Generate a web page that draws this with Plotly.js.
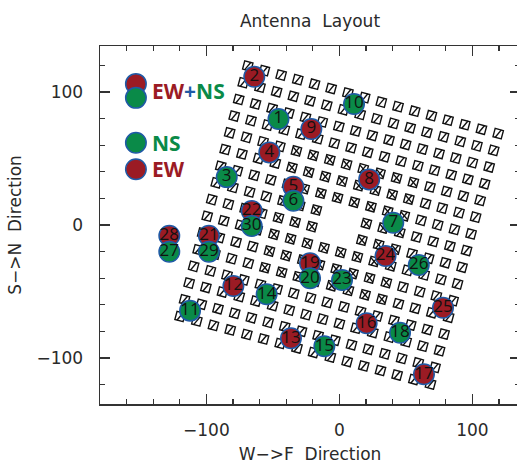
<!DOCTYPE html>
<html><head><meta charset="utf-8">
<script src="https://cdn.plot.ly/plotly-3.0.1.min.js"></script>
<style>html,body{margin:0;padding:0;background:#fff;overflow:hidden;width:517px;height:464px}</style>
</head><body><div id="chart"></div>
<script>
// Antenna lattice, one list per lattice row (null = empty site in the central hole)
const gridX = [
[-68.9,-56.4,-43.8,-31.3,-18.7,-6.2,6.4,19.0,31.5,44.1,56.6,69.2,81.7,94.3,106.8,119.4],
[-72.3,-59.7,-47.2,-34.6,-22.1,-9.5,3.0,15.6,28.1,40.7,53.2,65.8,78.3,90.9,103.4,116.0],
[-75.7,-63.1,-50.6,-38.0,-25.5,-12.9,-0.4,12.2,24.7,37.3,49.8,62.4,74.9,87.5,100.0,112.6],
[-79.1,-66.5,-54.0,-41.4,-28.9,-16.3,-3.8,8.8,21.3,33.9,46.4,59.0,71.5,84.1,96.6,109.2],
[-82.5,-69.9,-57.4,-44.8,-32.3,-19.7,-7.2,5.4,17.9,30.5,43.0,55.6,68.1,80.7,93.2,105.8],
[-85.9,-73.3,-60.8,-48.2,-35.7,-23.1,-10.6,2.0,14.6,27.1,39.7,52.2,64.8,77.3,89.9,102.4],
[-89.2,-76.7,-64.1,-51.6,-39.0,-26.5,-13.9,-1.4,11.2,23.7,36.3,48.8,61.4,73.9,86.5,99.0],
[-92.6,-80.1,-67.5,-55.0,-42.4,-29.9,-17.3,null,null,20.3,32.9,45.4,58.0,70.5,83.1,95.6],
[-96.0,-83.5,-70.9,-58.4,-45.8,-33.3,-20.7,null,null,16.9,29.5,42.0,54.6,67.1,79.7,92.2],
[-99.4,-86.9,-74.3,-61.8,-49.2,-36.7,-24.1,-11.6,1.0,13.5,26.1,38.6,51.2,63.7,76.3,88.8],
[-102.8,-90.3,-77.7,-65.2,-52.6,-40.1,-27.5,-15.0,-2.4,10.2,22.7,35.3,47.8,60.4,72.9,85.5],
[-106.2,-93.6,-81.1,-68.5,-56.0,-43.4,-30.9,-18.3,-5.8,6.8,19.3,31.9,44.4,57.0,69.5,82.1],
[-109.6,-97.0,-84.5,-71.9,-59.4,-46.8,-34.3,-21.7,-9.2,3.4,15.9,28.5,41.0,53.6,66.1,78.7],
[-113.0,-100.4,-87.9,-75.3,-62.8,-50.2,-37.7,-25.1,-12.6,0.0,12.5,25.1,37.6,50.2,62.7,75.3],
[-116.4,-103.8,-91.3,-78.7,-66.2,-53.6,-41.1,-28.5,-16.0,-3.4,9.1,21.7,34.2,46.8,59.3,71.9],
[-119.8,-107.2,-94.7,-82.1,-69.6,-57.0,-44.5,-31.9,-19.4,-6.8,5.8,18.3,30.9,43.4,56.0,68.5]
];
const gridY = [
[119.5,116.1,112.7,109.3,105.9,102.6,99.2,95.8,92.4,89.0,85.6,82.2,78.8,75.4,72.0,68.7],
[107.0,103.6,100.2,96.8,93.4,90.0,86.6,83.2,79.8,76.4,73.1,69.7,66.3,62.9,59.5,56.1],
[94.4,91.0,87.6,84.2,80.8,77.5,74.1,70.7,67.3,63.9,60.5,57.1,53.7,50.3,46.9,43.6],
[81.9,78.5,75.1,71.7,68.3,64.9,61.5,58.1,54.7,51.3,48.0,44.6,41.2,37.8,34.4,31.0],
[69.3,65.9,62.5,59.1,55.7,52.4,49.0,45.6,42.2,38.8,35.4,32.0,28.6,25.2,21.8,18.5],
[56.8,53.4,50.0,46.6,43.2,39.8,36.4,33.0,29.6,26.2,22.9,19.5,16.1,12.7,9.3,5.9],
[44.2,40.8,37.4,34.0,30.6,27.3,23.9,20.5,17.1,13.7,10.3,6.9,3.5,0.1,-3.3,-6.7],
[31.7,28.3,24.9,21.5,18.1,14.7,11.3,null,null,1.1,-2.3,-5.6,-9.0,-12.4,-15.8,-19.2],
[19.1,15.7,12.3,8.9,5.5,2.2,-1.2,null,null,-11.4,-14.8,-18.2,-21.6,-25.0,-28.4,-31.8],
[6.6,3.2,-0.2,-3.6,-7.0,-10.4,-13.8,-17.2,-20.6,-24.0,-27.4,-30.7,-34.1,-37.5,-40.9,-44.3],
[-6.0,-9.4,-12.8,-16.2,-19.6,-23.0,-26.3,-29.7,-33.1,-36.5,-39.9,-43.3,-46.7,-50.1,-53.5,-56.9],
[-18.6,-21.9,-25.3,-28.7,-32.1,-35.5,-38.9,-42.3,-45.7,-49.1,-52.5,-55.8,-59.2,-62.6,-66.0,-69.4],
[-31.1,-34.5,-37.9,-41.3,-44.7,-48.1,-51.4,-54.8,-58.2,-61.6,-65.0,-68.4,-71.8,-75.2,-78.6,-82.0],
[-43.7,-47.0,-50.4,-53.8,-57.2,-60.6,-64.0,-67.4,-70.8,-74.2,-77.6,-80.9,-84.3,-87.7,-91.1,-94.5],
[-56.2,-59.6,-63.0,-66.4,-69.8,-73.2,-76.5,-79.9,-83.3,-86.7,-90.1,-93.5,-96.9,-100.3,-103.7,-107.1],
[-68.8,-72.1,-75.5,-78.9,-82.3,-85.7,-89.1,-92.5,-95.9,-99.3,-102.7,-106.0,-109.4,-112.8,-116.2,-119.6]
];
const crossedFrom = 4, crossedTo = 12; // central lattice block whose elements carry both diagonals

const ewLabels = ["2","4","5","8","9","12","13","16","17","19","21","22","24","25","28"];
const ewX = [-64,-52.7,-34.6,22.4,-21.1,-79.7,-36.4,20.5,63.6,-22.1,-98.1,-65.9,34.7,77.9,-127.9];
const ewY = [111.5,54.6,28.8,34.3,72.2,-45.9,-85.2,-73.9,-112.3,-28.8,-8.1,10.5,-23.3,-62.2,-8.1];

const nsLabels = ["1","3","6","7","10","11","14","15","18","20","23","26","27","29","30"];
const nsX = [-45.8,-84.7,-34.6,40.5,11,-112.3,-54.7,-11.3,45.6,-22.1,2,59.7,-127.9,-98.1,-65.9];
const nsY = [79.7,36,18.3,1.7,91,-64.4,-52.1,-91.2,-81,-40.1,-41.4,-30.1,-20.1,-20.1,-0.8];

const keyEwX = [-153,-153], keyEwY = [106.1,41.9];
const keyNsX = [-153,-153], keyNsY = [95.6,61.9];

const titleText = "Antenna\u00a0\u00a0Layout";
const xTitle = "W\u2212>F\u00a0\u00a0Direction";
const yTitle = "S\u2212>N\u00a0\u00a0Direction";

const RED = "#9b1b24", GREEN = "#0a8a48", BLUE = "#1f5aa6", INK = "#2a2a2a";
const FONT = "DejaVu Sans";
const LABEL_FONT = "Open Sans";

const allX = gridX.flat(), allY = gridY.flat();
const crossX = gridX.slice(crossedFrom,crossedTo).flatMap(r=>r.slice(crossedFrom,crossedTo));
const crossY = gridY.slice(crossedFrom,crossedTo).flatMap(r=>r.slice(crossedFrom,crossedTo));

function element(x,y,symbol,angle,size){
  return {x,y,type:"scatter",mode:"markers",hoverinfo:"skip",showlegend:false,
    marker:{symbol,size,angle,color:"#111",line:{color:"#111",width:1.4}}};
}
function dish(x,y,color,labels){
  return {x,y,type:"scatter",mode:labels?"markers+text":"markers",text:labels,showlegend:false,
    textposition:"middle center",textfont:{family:LABEL_FONT,size:17,color:"#111"},
    marker:{symbol:"circle",size:20.5,color,line:{color:BLUE,width:1.5}}};
}
const traces = [
  element(allX,allY,"square-open",15,8.5),
  element(allX,allY,"line-ne",-5,7),
  element(crossX,crossY,"line-nw",5,7),
  dish(ewX,ewY,RED,ewLabels),
  dish(nsX,nsY,GREEN,nsLabels),
  dish(keyEwX,keyEwY,RED),
  dish(keyNsX,keyNsY,GREEN)
];

const axisBase = {
  showgrid:false,zeroline:false,showline:true,linecolor:"#333",linewidth:1.5,mirror:"ticks",
  ticks:"inside",ticklen:10,tickwidth:1.2,tickcolor:"#333",tick0:0,dtick:100,
  minor:{ticks:"inside",ticklen:5,tickwidth:1.2,tickcolor:"#333",dtick:20,tick0:0,showgrid:false},
  tickfont:{family:FONT,size:17,color:INK}
};
function keyLabel(y,html){
  return {x:-142.5,y,xref:"x",yref:"y",text:html,showarrow:false,xanchor:"left",yanchor:"middle",
    font:{family:LABEL_FONT,size:21,weight:700}};
}
const layout = {
  width:525,height:464,autosize:false,
  margin:{l:100,r:5,t:46,b:60,pad:0},
  paper_bgcolor:"#fff",plot_bgcolor:"#fff",showlegend:false,
  title:{text:titleText,font:{family:FONT,size:17,color:INK},xref:"paper",x:0.5,xanchor:"center",
    yref:"container",y:0.955,yanchor:"middle"},
  xaxis:Object.assign({},axisBase,{range:[-180,135.8],ticklabelstandoff:10,
    title:{text:xTitle,font:{family:FONT,size:17,color:INK},standoff:12}}),
  yaxis:Object.assign({},axisBase,{range:[-134.6,134.6],ticklabelstandoff:12,
    title:{text:yTitle,font:{family:FONT,size:17,color:INK},standoff:10}}),
  annotations:[
    keyLabel(101,`<span style="color:${RED}">EW</span><span style="color:${BLUE}">+</span><span style="color:${GREEN}">NS</span>`),
    keyLabel(61.9,`<span style="color:${GREEN}">NS</span>`),
    keyLabel(41.9,`<span style="color:${RED}">EW</span>`)
  ]
};
Plotly.newPlot("chart",traces,layout,{displayModeBar:false,staticPlot:true});
</script></body></html>
